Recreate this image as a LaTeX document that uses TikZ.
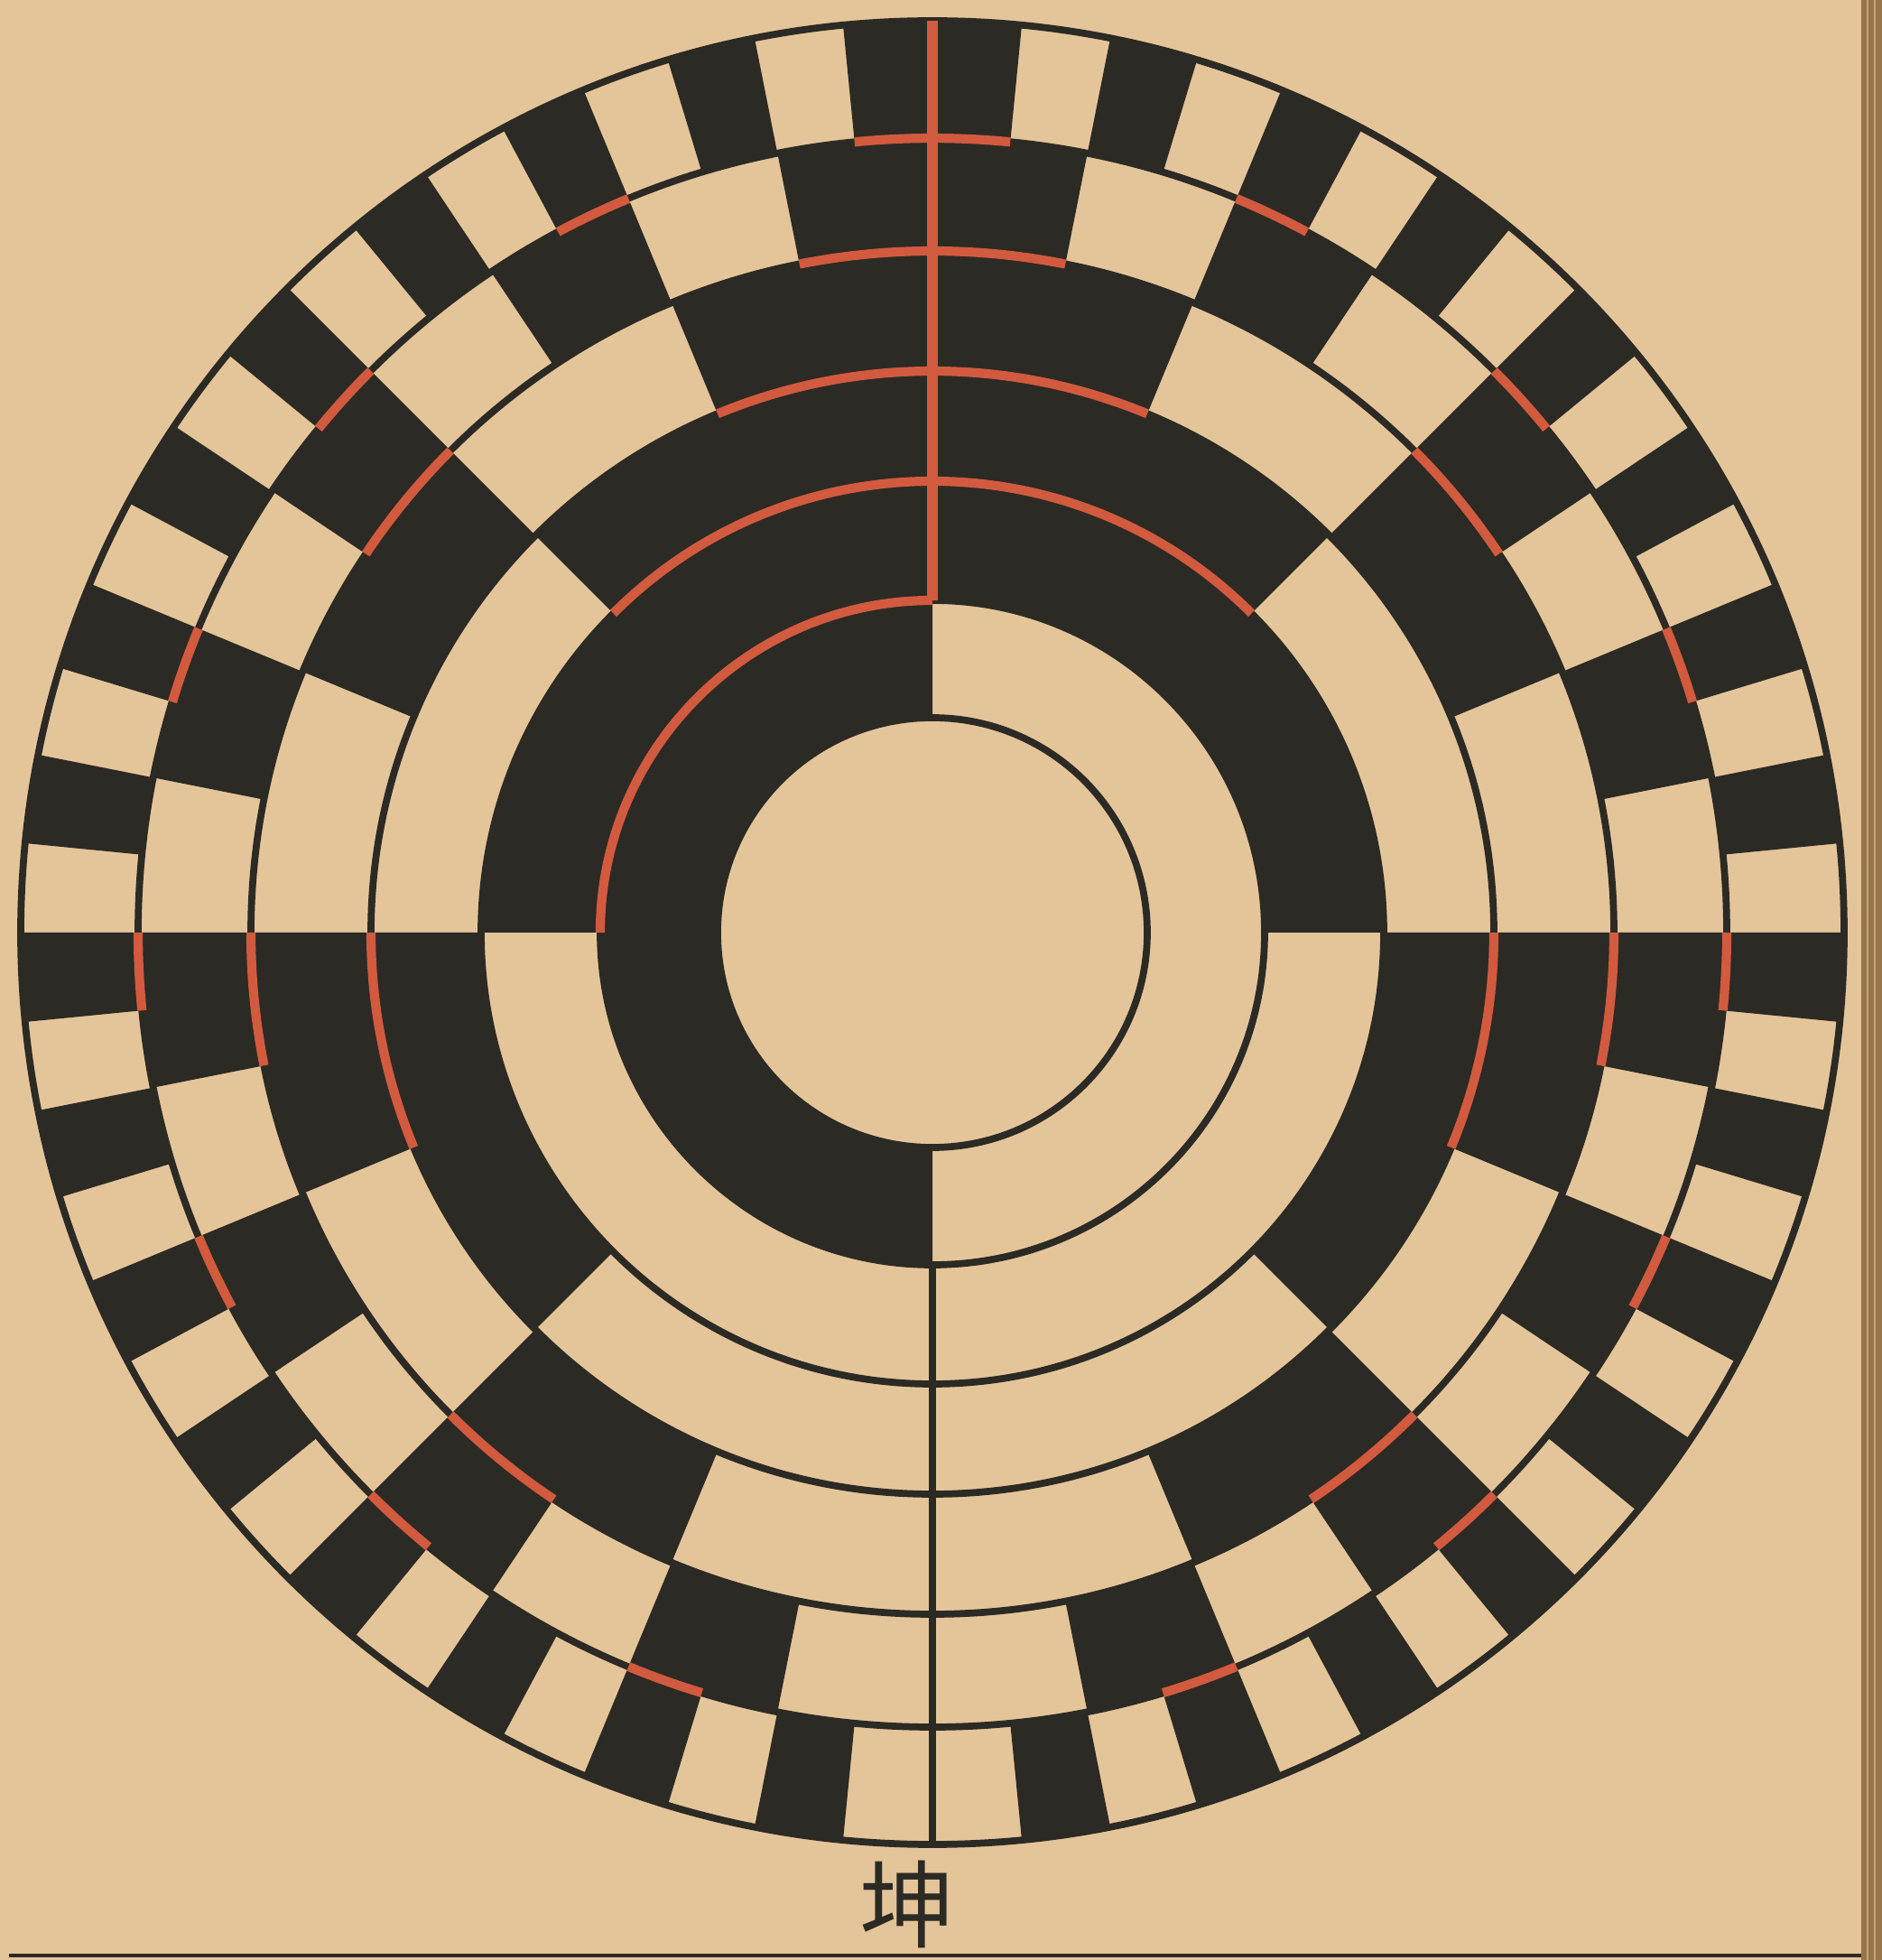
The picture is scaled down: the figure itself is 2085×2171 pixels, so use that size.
\documentclass[tikz,border=0pt]{standalone}
\usepackage{fontspec}
\newfontfamily\cjk{Noto Sans CJK SC}
\definecolor{paper}{RGB}{228,197,153}
\definecolor{ink}{RGB}{44,42,36}
\definecolor{cinnabar}{RGB}{210,90,62}
\definecolor{pageedge}{RGB}{150,118,72}
\newcommand\annsec[4]{\fill[ink] (#1:#3) arc[start angle=#1,end angle=#2,radius=#3] -- (#2:#4) arc[start angle=#2,end angle=#1,radius=#4] -- cycle;}
\newcommand\redarc[3]{\draw[redline] (#1:#3) arc[start angle=#1,end angle=#2,radius=#3];}
\begin{document}
\begin{tikzpicture}[x=0.01cm,y=0.01cm,
  ringline/.style={draw=ink,line width=2.2pt},
  redline/.style={draw=cinnabar,line width=2.9pt}]
\fill[paper] (0,0) rectangle (2085,2171);
\useasboundingbox (0,0) rectangle (2085,2171);
\begin{scope}[shift={(1033,1138)}]
  % ring 1 (two halves)
  \annsec{90}{270}{238}{368}
  % rings 2..6
  \foreach \k/\ra/\rb in {2/368/500,3/500/622,4/622/755,5/755/880,6/880/1010}{
    \pgfmathtruncatemacro{\nm}{2^(\k-1)-1}
    \pgfmathsetmacro{\w}{360/2^\k}
    \pgfmathsetmacro{\ta}{90-\w}
    \pgfmathsetmacro{\tb}{90+\w}
    \annsec{\ta}{\tb}{\ra}{\rb}
    \foreach \g in {1,...,\nm}{
      \ifodd\g\relax\else
        \pgfmathsetmacro{\aa}{90+\g*\w}
        \pgfmathsetmacro{\ab}{90+(\g+1)*\w}
        \pgfmathsetmacro{\ba}{90-(\g+1)*\w}
        \pgfmathsetmacro{\bb}{90-\g*\w}
        \annsec{\aa}{\ab}{\ra}{\rb}
        \annsec{\ba}{\bb}{\ra}{\rb}
      \fi
    }
  }
  % ring boundaries
  \foreach \r in {238,368,500,622,755,880,1010}{
    \draw[ringline] (0,0) circle[radius=\r];
  }
  \draw[ringline] (270:368) -- (270:1010);
  % red lines where two black fields meet
  \draw[redline,line width=3.6pt] (90:368) -- (90:1010);
  \redarc{90}{180}{368}
  \redarc{45}{135}{500}
  \redarc{67.5}{112.5}{622}
  \redarc{180}{202.5}{622}
  \redarc{-22.5}{0}{622}
  \redarc{78.75}{101.25}{755}
  \redarc{135}{146.25}{755}
  \redarc{33.75}{45}{755}
  \redarc{180}{191.25}{755}
  \redarc{-11.25}{0}{755}
  \redarc{225}{236.25}{755}
  \redarc{-56.25}{-45}{755}
  \redarc{84.375}{95.625}{880}
  \foreach \q in {1,...,7}{
    \pgfmathsetmacro{\la}{90+22.5*\q}
    \pgfmathsetmacro{\lb}{95.625+22.5*\q}
    \pgfmathsetmacro{\rA}{84.375-22.5*\q}
    \pgfmathsetmacro{\rB}{90-22.5*\q}
    \redarc{\la}{\lb}{880}
    \redarc{\rA}{\rB}{880}
  }
\end{scope}
\node[font=\cjk\fontsize{30}{30}\selectfont,text=ink,inner sep=0pt] (kun) at (1005,62) {坤};
\fill[pageedge] (2062,0) rectangle (2085,2171);
\draw[paper!60!pageedge,line width=0.5pt] (2069,0) -- (2069,2171);
\draw[paper!60!pageedge,line width=0.5pt] (2077,0) -- (2077,2171);
\draw[ink,line width=1.2pt] (10,5) -- (2062,5);
\end{tikzpicture}
\end{document}
